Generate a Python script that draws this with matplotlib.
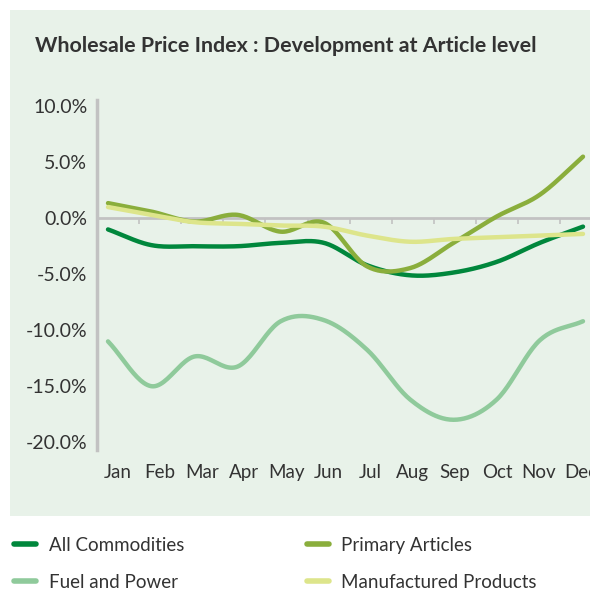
import numpy as np
import matplotlib

matplotlib.use("Agg")
import matplotlib.pyplot as plt
from matplotlib.patches import Rectangle
from matplotlib.lines import Line2D

plt.rcParams["font.family"] = ["Lato", "DejaVu Sans"]

months = ["Jan", "Feb", "Mar", "Apr", "May", "Jun",
          "Jul", "Aug", "Sep", "Oct", "Nov", "Dec"]
all_commodities = [-1.0, -2.4, -2.5, -2.5, -2.2, -2.2, -4.2, -5.1, -4.85, -3.9, -2.2, -0.75]
primary_articles = [1.35, 0.6, -0.3, 0.3, -1.2, -0.4, -4.3, -4.45, -2.2, 0.15, 2.1, 5.5]
fuel_power = [-11.0, -15.0, -12.35, -13.25, -9.2, -9.1, -11.75, -16.2, -18.0, -16.2, -10.9, -9.2]
manufactured = [1.0, 0.3, -0.35, -0.5, -0.65, -0.75, -1.55, -2.1, -1.85, -1.7, -1.55, -1.4]

series = [
    ("All Commodities", all_commodities, "#00873c"),
    ("Primary Articles", primary_articles, "#8aae3c"),
    ("Fuel and Power", fuel_power, "#8fca9b"),
    ("Manufactured Products", manufactured, "#dde58b"),
]

BG = "#e8f2e9"
GRID = "#c2c2c2"
TXT = "#333333"


def smooth(x, y, n=24):
    # catmull-rom style smoothing, like Excel's "smoothed line"
    x = np.asarray(x, float)
    y = np.asarray(y, float)
    px = np.concatenate([[2 * x[0] - x[1]], x, [2 * x[-1] - x[-2]]])
    py = np.concatenate([[2 * y[0] - y[1]], y, [2 * y[-1] - y[-2]]])
    t = np.linspace(0, 1, n, endpoint=False)
    xs, ys = [], []
    for i in range(1, len(px) - 2):
        for p, out in ((px, xs), (py, ys)):
            p0, p1, p2, p3 = p[i - 1], p[i], p[i + 1], p[i + 2]
            out.extend(0.5 * (2 * p1 + (-p0 + p2) * t
                              + (2 * p0 - 5 * p1 + 4 * p2 - p3) * t ** 2
                              + (-p0 + 3 * p1 - 3 * p2 + p3) * t ** 3))
    xs.append(x[-1])
    ys.append(y[-1])
    return np.array(xs), np.array(ys)


fig = plt.figure(figsize=(5.9, 5.9), dpi=100)
fig.patches.append(Rectangle((10 / 590, 1 - 516 / 590), 1, 506 / 590,
                             transform=fig.transFigure, facecolor=BG,
                             edgecolor="none", zorder=-5))

fig.text(35 / 590, 1 - 46 / 590, "Wholesale Price Index : Development at Article level",
         fontsize=15.4, fontweight="bold", color=TXT, va="center", ha="left")

ax = fig.add_axes([97 / 590, 1 - 450 / 590, 493 / 590, 350 / 590])
ax.set_facecolor("none")
ax.set_zorder(2)

x = np.arange(len(months))
for name, vals, col in series:
    sx, sy = smooth(x, vals)
    ax.plot(sx, sy, color=col, lw=3.2, solid_capstyle="round", zorder=3)

# category axis (slightly narrower than the plotted spacing, as in the source)
cat_left, cat_w = -0.255, 0.975
ax.set_xlim(cat_left, cat_left + 493 / 43.18)
ax.set_ylim(-20.7, 10.56)

ax.axhline(0, color=GRID, lw=2, zorder=1)
bounds = cat_left + cat_w * np.arange(1, 12)
ax.vlines(bounds, -0.5, 0, color=GRID, lw=1.2, zorder=1)

ax.set_xticks(cat_left + cat_w * (np.arange(12) + 0.5))
ax.set_xticklabels(months)
ax.set_yticks(np.arange(-20, 11, 5))
ax.set_yticklabels(["%.1f%%" % v for v in np.arange(-20, 11, 5)])
ax.tick_params(axis="x", length=0, pad=10, labelsize=13.5, labelcolor=TXT)
ax.tick_params(axis="y", length=0, pad=7, labelsize=14, labelcolor=TXT)

for s in ["top", "right", "bottom"]:
    ax.spines[s].set_visible(False)
ax.spines["left"].set_color(GRID)
ax.spines["left"].set_linewidth(2.5)

# legend fills column by column
order = [0, 2, 1, 3]
handles = [Line2D([], [], color=series[i][2], lw=4, solid_capstyle="round") for i in order]
fig.legend(handles, [series[i][0] for i in order], ncol=2, loc="upper left",
           bbox_to_anchor=(-0.005, 1 - 520 / 590), frameon=False, fontsize=13.5,
           handlelength=1.2, handletextpad=0.65, columnspacing=6.55,
           labelspacing=1.05, labelcolor=TXT)

fig.savefig("out.png", dpi=100, facecolor="white")
